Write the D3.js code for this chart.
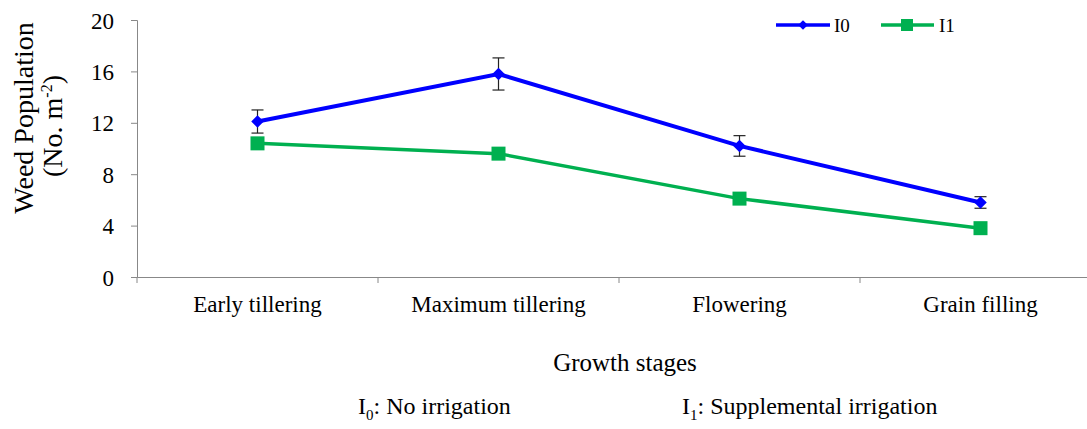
<!DOCTYPE html>
<html>
<head>
<meta charset="utf-8">
<script src="https://cdn.jsdelivr.net/npm/d3@7"></script>
<style>
  body { margin: 0; background: #fff; }
  text { font-family: "Liberation Serif", "Times New Roman", serif; fill: #000; }
</style>
</head>
<body>
<svg id="chart" width="1087" height="429"></svg>
<script>
// data
let stages = ["Early tillering", "Maximum tillering", "Flowering", "Grain filling"];
let i0Values = [12.1, 15.8, 10.2, 5.8];
let i0Errors = [0.9, 1.25, 0.8, 0.45];
let i1Values = [10.4, 9.6, 6.1, 3.8];
let yTicks = [0, 4, 8, 12, 16, 20];

let svg = d3.select("#chart");

let x = d3.scaleBand()
          .domain(stages)
          .range([137, 1101]);

let y = d3.scaleLinear()
          .domain([0, 20])
          .range([277, 20]);

// y axis
let yAxis = d3.axisLeft(y).tickValues(yTicks).tickSize(6).tickPadding(17);
let gy = svg.append("g").attr("transform", "translate(137,0)").call(yAxis);
gy.attr("font-family", null);
gy.selectAll("text").style("font-size", "23px").attr("dy", "0.35em");
gy.select(".domain").attr("stroke", "#888");
gy.selectAll(".tick line").attr("stroke", "#888");

// x axis, ticks between categories
let xAxis = d3.axisBottom(x).tickSize(0);
let gx = svg.append("g").attr("transform", "translate(0,277)").call(xAxis);
gx.attr("font-family", null);
gx.selectAll("text").style("font-size", "23px").attr("y", 35).attr("dy", 0);
gx.select(".domain").attr("stroke", "#888");
gx.selectAll(".sep").data(stages).join("line")
  .attr("x1", d => x(d)).attr("x2", d => x(d))
  .attr("y1", 0).attr("y2", 6)
  .attr("stroke", "#888");

let cx = d => x(d) + x.bandwidth() / 2;

let line = d3.line()
             .x((d, i) => cx(stages[i]))
             .y(d => y(d));

// I1 series (green)
svg.append("path")
   .attr("d", line(i1Values))
   .attr("fill", "none")
   .attr("stroke", "#00B050")
   .attr("stroke-width", 3.5);

svg.append("g").selectAll("rect").data(i1Values).join("rect")
   .attr("x", (d, i) => cx(stages[i]) - 7)
   .attr("y", d => y(d) - 7)
   .attr("width", 14).attr("height", 14)
   .attr("fill", "#00B050");

// I0 series (blue) with error bars
let errs = svg.append("g");
i0Values.forEach(function(v, i) {
    let px = cx(stages[i]);
    let top = y(v + i0Errors[i]), bot = y(v - i0Errors[i]);
    errs.append("line").attr("x1", px).attr("x2", px).attr("y1", top).attr("y2", bot).attr("stroke", "#222").attr("stroke-width", 1.2);
    errs.append("line").attr("x1", px - 6).attr("x2", px + 6).attr("y1", top).attr("y2", top).attr("stroke", "#222").attr("stroke-width", 1.2);
    errs.append("line").attr("x1", px - 6).attr("x2", px + 6).attr("y1", bot).attr("y2", bot).attr("stroke", "#222").attr("stroke-width", 1.2);
});

svg.append("path")
   .attr("d", line(i0Values))
   .attr("fill", "none")
   .attr("stroke", "#0000FF")
   .attr("stroke-width", 4);

let diamond = d3.symbol().type(d3.symbolDiamond2).size(100);
svg.append("g").selectAll("path").data(i0Values).join("path")
   .attr("d", diamond)
   .attr("transform", (d, i) => "translate(" + cx(stages[i]) + "," + y(d) + ")")
   .attr("fill", "#0000FF");

// legend
let legend = svg.append("g").attr("transform", "translate(0,25)");
legend.append("line").attr("x1", 776).attr("x2", 830).attr("y1", 0).attr("y2", 0).attr("stroke", "#0000FF").attr("stroke-width", 3.5);
legend.append("path").attr("d", d3.symbol().type(d3.symbolDiamond2).size(60)).attr("transform", "translate(803,0)").attr("fill", "#0000FF");
legend.append("text").attr("x", 834).attr("y", 7).style("font-size", "19px").text("I0");
legend.append("line").attr("x1", 881).attr("x2", 934).attr("y1", 0).attr("y2", 0).attr("stroke", "#00B050").attr("stroke-width", 3.5);
legend.append("rect").attr("x", 901).attr("y", -6).attr("width", 12).attr("height", 12).attr("fill", "#00B050");
legend.append("text").attr("x", 939).attr("y", 7).style("font-size", "19px").text("I1");

// y axis title
svg.append("text")
   .attr("transform", "translate(33,118) rotate(-90)")
   .attr("text-anchor", "middle")
   .style("font-size", "28px")
   .text("Weed Population");
let yt2 = svg.append("text")
   .attr("transform", "translate(62,126) rotate(-90)")
   .attr("text-anchor", "middle")
   .style("font-size", "28px");
yt2.append("tspan").text("(No. m");
yt2.append("tspan").attr("dy", -10).style("font-size", "16px").text("-2");
yt2.append("tspan").attr("dy", 10).text(")");

// x axis title
svg.append("text").attr("x", 625).attr("y", 371).attr("text-anchor", "middle").style("font-size", "25px").text("Growth stages");

// notes
let n0 = svg.append("text").attr("x", 358).attr("y", 414).style("font-size", "24px");
n0.append("tspan").text("I");
n0.append("tspan").attr("dy", 6).style("font-size", "15px").text("0");
n0.append("tspan").attr("dy", -6).text(": No irrigation");
let n1 = svg.append("text").attr("x", 682).attr("y", 414).style("font-size", "24px");
n1.append("tspan").text("I");
n1.append("tspan").attr("dy", 6).style("font-size", "15px").text("1");
n1.append("tspan").attr("dy", -6).text(": Supplemental irrigation");
</script>
</body>
</html>
